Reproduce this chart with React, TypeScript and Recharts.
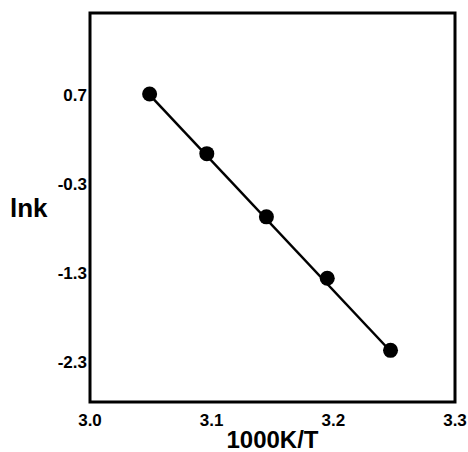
import { ScatterChart, Scatter, XAxis, YAxis, ReferenceArea, Label } from 'recharts'

// 1000/T for T = 328, 323, 318, 313, 308 K
const invTemp = [3.049, 3.096, 3.145, 3.195, 3.247]
const lnK = [0.71, 0.04, -0.67, -1.36, -2.17]
const fitX = [3.049, 3.247]
const fitY = [0.7, -2.18]
const xTicks = [3.0, 3.1, 3.2, 3.3]
const yTicks = [0.7, -0.3, -1.3, -2.3]

const points = invTemp.map((x, i) => ({ x, y: lnK[i] }))
const fit = fitX.map((x, i) => ({ x, y: fitY[i] }))

const font = '"Liberation Sans", Arial, Helvetica, sans-serif'

const XTick = (props: any) => (
  <text x={props.x} y={props.y} dy={13} textAnchor="middle" fontSize={17} fontWeight="bold" fontFamily={font} fill="#000">
    {Number(props.payload.value).toFixed(1)}
  </text>
)

const YTick = (props: any) => (
  <text x={props.x} y={props.y} dy={6} textAnchor="end" fontSize={17} fontWeight="bold" fontFamily={font} fill="#000">
    {Number(props.payload.value).toFixed(1)}
  </text>
)

const YLabel = (props: any) => {
  const vb = props.viewBox
  return (
    <text x={10} y={vb.y + vb.height / 2} dy={9} fontSize={26} fontWeight="bold" fontFamily={font} fill="#000">
      lnk
    </text>
  )
}

export default function App() {
  return (
    <div style={{ position: 'absolute', left: 0, top: 0, background: '#fff' }}>
      <ScatterChart width={468} height={452} margin={{ top: 13, right: 13, bottom: 0, left: 10 }}>
        <XAxis
          type="number"
          dataKey="x"
          domain={[3.0, 3.3]}
          ticks={xTicks}
          tickLine={false}
          tickSize={6}
          tickMargin={5}
          axisLine={false}
          height={50}
          tick={XTick}
          allowDataOverflow
        >
          <Label value="1000K/T" position="insideBottom" offset={4} style={{ fontSize: 24, fontWeight: 'bold', fontFamily: font, fill: '#000' }} />
        </XAxis>
        <YAxis
          type="number"
          dataKey="y"
          domain={[-2.75, 1.62]}
          ticks={yTicks}
          tickLine={false}
          tickSize={2}
          tickMargin={1}
          axisLine={false}
          width={80}
          tick={YTick}
          allowDataOverflow
        >
          <Label content={YLabel} />
        </YAxis>
        <ReferenceArea x1={3.0} x2={3.3} y1={-2.75} y2={1.62} fill="none" stroke="#000" strokeWidth={3} ifOverflow="visible" />
        <Scatter data={fit} line={{ stroke: '#000', strokeWidth: 2.5 }} shape={() => <g />} isAnimationActive={false} />
        <Scatter
          data={points}
          isAnimationActive={false}
          shape={(p: any) => <circle cx={p.cx} cy={p.cy} r={7.5} fill="#000" />}
        />
      </ScatterChart>
    </div>
  )
}
